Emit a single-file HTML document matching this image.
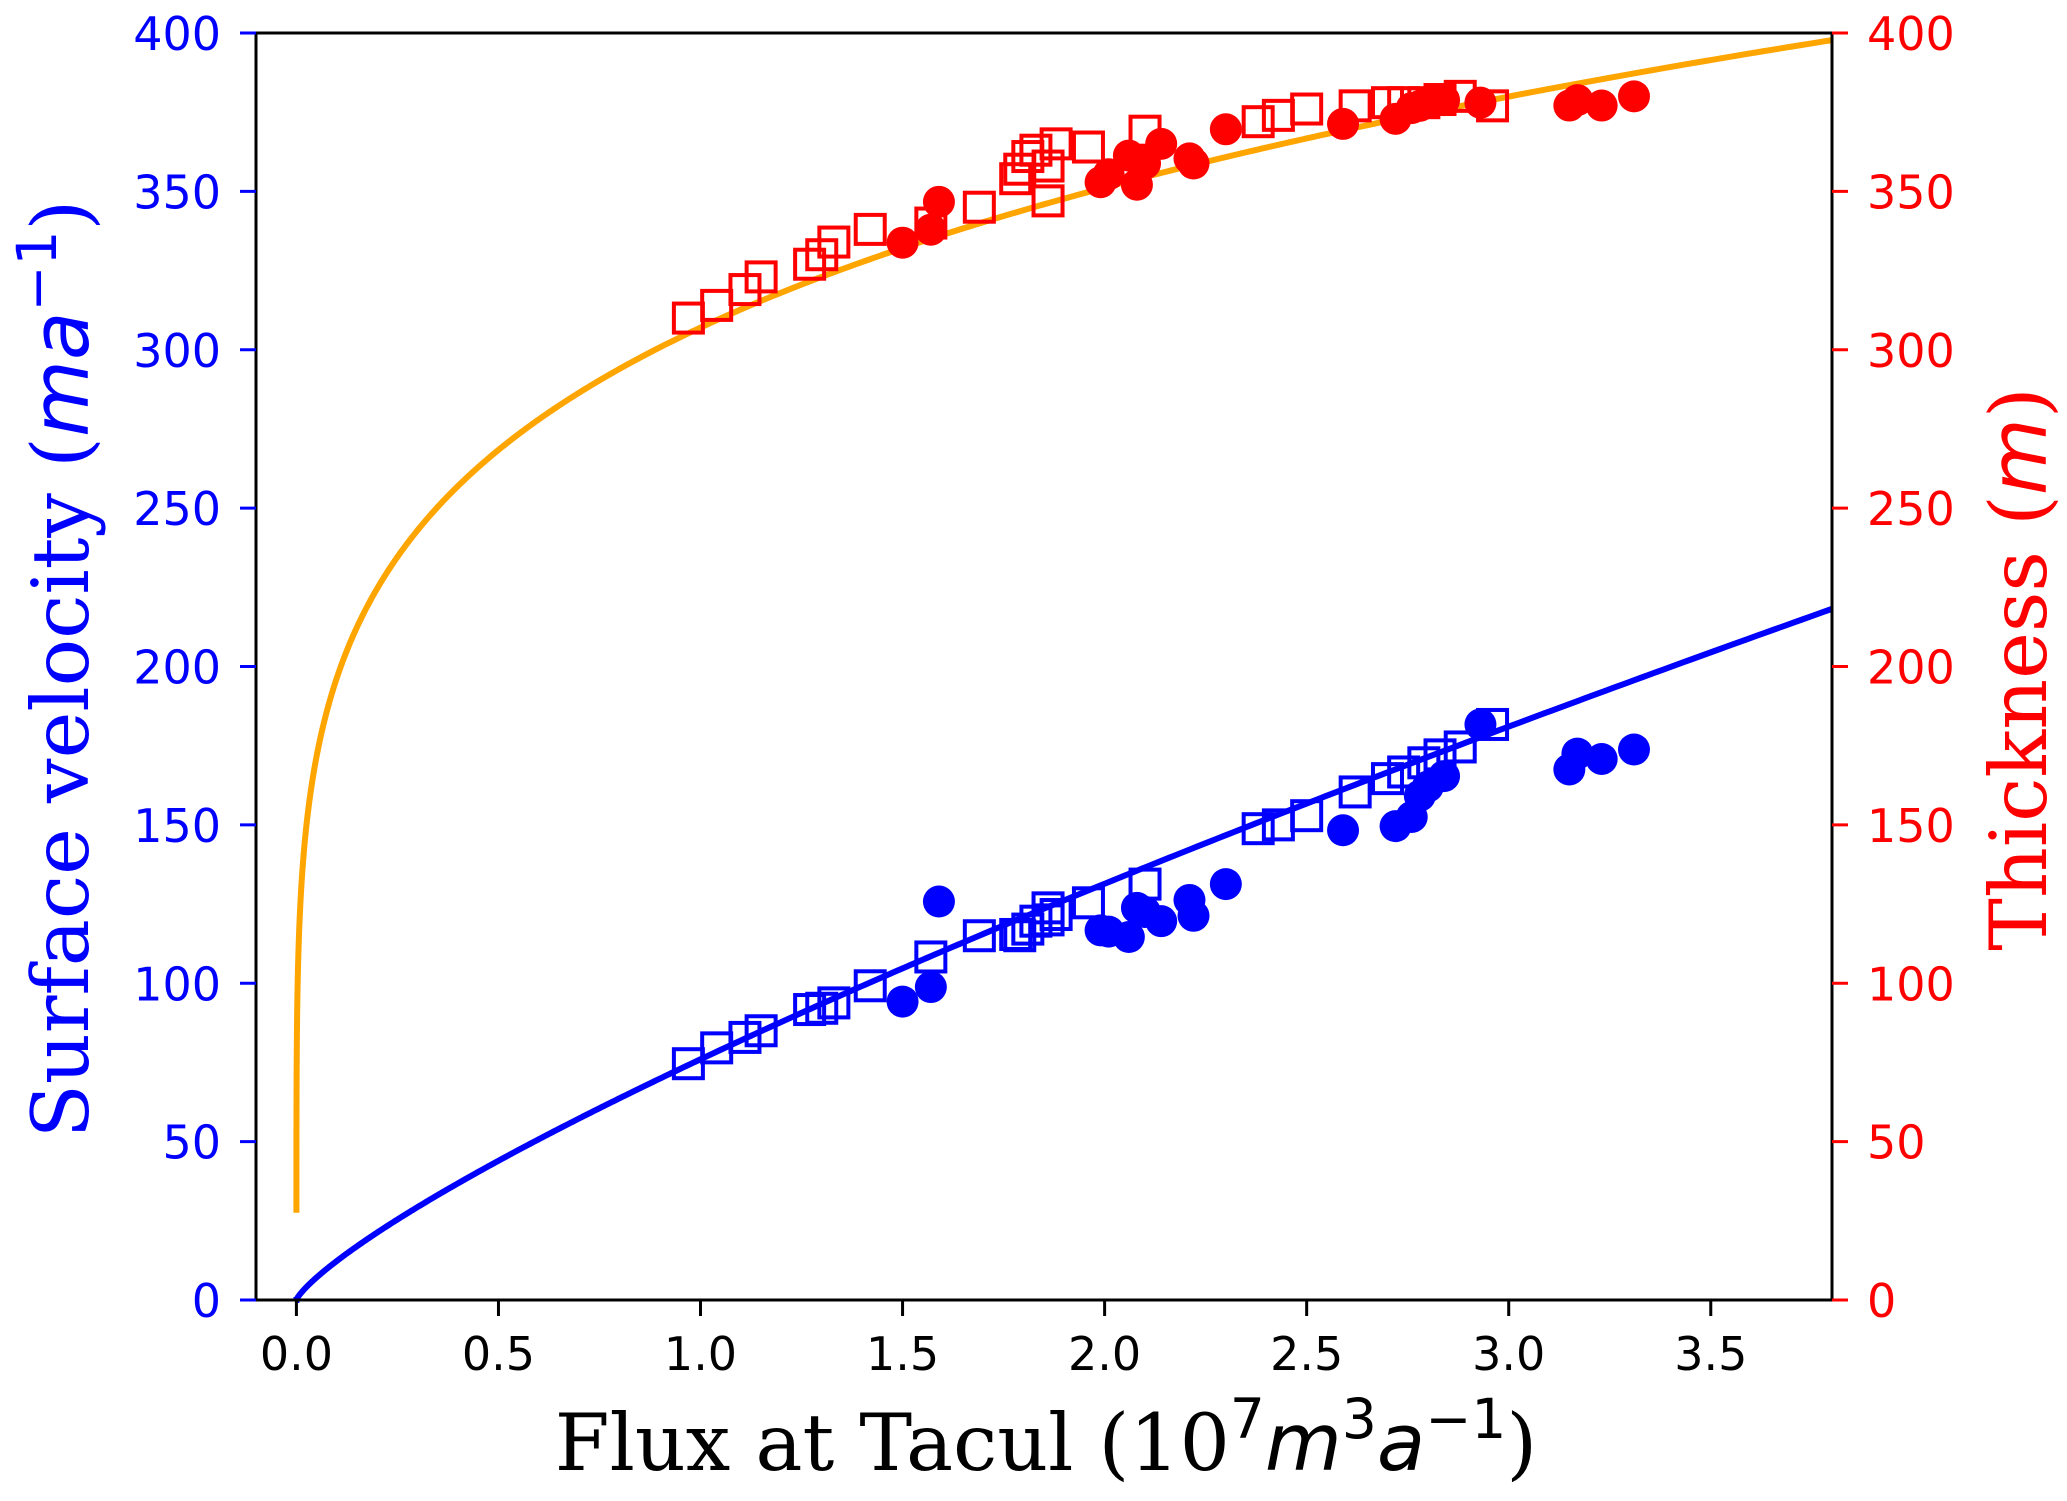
<!DOCTYPE html>
<html><head><meta charset="utf-8"><style>
html,body{margin:0;padding:0;background:#fff}
svg{display:block}
</style></head><body>
<svg id="chart" width="2067" height="1501" viewBox="0 0 2067 1501" xmlns="http://www.w3.org/2000/svg">
<g id="plot"></g>
<g id="axes"></g>
<text x="1046" y="1470" text-anchor="middle" font-family="'DejaVu Serif', 'Liberation Serif', serif" font-size="79" fill="#000">Flux at Tacul (10<tspan font-family="'DejaVu Sans', sans-serif" font-size="55" dy="-32">7</tspan><tspan font-family="'DejaVu Sans', sans-serif" font-style="italic" dy="32">m</tspan><tspan font-family="'DejaVu Sans', sans-serif" font-size="55" dy="-32">3</tspan><tspan font-family="'DejaVu Sans', sans-serif" font-style="italic" dy="32">a</tspan><tspan font-family="'DejaVu Sans', sans-serif" font-size="55" dy="-32">−1</tspan><tspan dy="32">)</tspan></text>
<text transform="translate(88,669) rotate(-90)" text-anchor="middle" font-family="'DejaVu Serif', 'Liberation Serif', serif" font-size="79" fill="#0000ff">Surface velocity (<tspan font-family="'DejaVu Sans', sans-serif" font-style="italic">ma</tspan><tspan font-family="'DejaVu Sans', sans-serif" font-size="55" dy="-32">−1</tspan><tspan dy="32">)</tspan></text>
<text transform="translate(2046,669) rotate(-90)" text-anchor="middle" font-family="'DejaVu Serif', 'Liberation Serif', serif" font-size="79" fill="#ff0000">Thickness (<tspan font-family="'DejaVu Sans', sans-serif" font-style="italic">m</tspan>)</text>
</svg>
<script>
const xTicks=[0.0,0.5,1.0,1.5,2.0,2.5,3.0,3.5];
const xTickLabels=["0.0","0.5","1.0","1.5","2.0","2.5","3.0","3.5"];
const yTicks=[0,50,100,150,200,250,300,350,400];
const yTickLabels=["0","50","100","150","200","250","300","350","400"];
const sqFlux=[0.97,1.04,1.11,1.15,1.27,1.30,1.33,1.42,1.57,1.69,1.78,1.79,1.81,1.83,1.86,1.86,1.88,1.96,2.10,2.38,2.43,2.50,2.62,2.70,2.74,2.79,2.83,2.88,2.96];
const sqThick=[310,314,319,323,327,330,334,338,340,345,354,357,361,363,358,347,365,364,369,372,374,376,377,378,378,378,379,380,377];
const sqVel=[74.6,79.6,82.9,85,91.7,92.1,93.8,99.2,108.3,115,115.4,115,117.1,119.6,123.8,120,121.7,125.4,131.3,148.8,150,152.9,160.4,164.6,166.7,169.6,172.1,174.6,181.7];
const ciFlux=[1.50,1.57,1.59,1.99,2.01,2.06,2.08,2.10,2.14,2.21,2.22,2.30,2.59,2.72,2.76,2.78,2.80,2.84,2.93,3.15,3.17,3.23,3.31];
const ciThick=[333.8,337.9,346.7,352.9,355.4,361.3,352.1,358.8,365,360.4,358.8,369.6,371.3,372.9,376.3,377,378,378.8,378,377.1,378.8,377.1,380];
const ciVel=[94.2,98.8,125.8,116.7,116.3,114.6,123.8,122.5,119.6,126.3,121.3,131.3,148.3,149.6,152.5,159.2,162.1,165.4,181.7,167.5,172.5,170.8,173.8];
const thickCoef=307, thickExp=0.194;
const velCoef=76, velExp=0.79;

const L=256,R=1832,T=33,B=1300,xmin=-0.1,xmax=3.8,ymin=0,ymax=400;
const sx=v=>L+(v-xmin)/(xmax-xmin)*(R-L);
const sy=v=>B-(v-ymin)/(ymax-ymin)*(B-T);
const NS="http://www.w3.org/2000/svg";
const plot=document.getElementById('plot'),axes=document.getElementById('axes');
function mk(tag,attrs,parent){const e=document.createElementNS(NS,tag);for(const k in attrs)e.setAttribute(k,attrs[k]);parent.appendChild(e);return e;}

let dT='',dV='';
const N=600, q0=4e-6;
for(let i=0;i<=N;i++){
  const q=q0+Math.pow(i/N,3)*(xmax-q0);
  dT+=(i?'L':'M')+sx(q).toFixed(2)+','+sy(thickCoef*Math.pow(q,thickExp)).toFixed(2);
  dV+=(i?'L':'M')+sx(q).toFixed(2)+','+sy(velCoef*Math.pow(q,velExp)).toFixed(2);
}
const ct=mk('path',{d:dT,fill:'none',stroke:'#ffa500','stroke-width':6},plot);


const cv=mk('path',{d:dV,fill:'none',stroke:'#0000ff','stroke-width':6},plot);



const S=29;
sqFlux.forEach((q,i)=>{
  const a=mk('rect',{x:sx(q)-S/2,y:sy(sqThick[i])-S/2,width:S,height:S,fill:'none',stroke:'#ff0000','stroke-width':4},plot);
  
  
  const b=mk('rect',{x:sx(q)-S/2,y:sy(sqVel[i])-S/2,width:S,height:S,fill:'none',stroke:'#0000ff','stroke-width':4},plot);
  
  
});
ciFlux.forEach((q,i)=>{
  const a=mk('circle',{cx:sx(q),cy:sy(ciThick[i]),r:16,fill:'#ff0000'},plot);
  
  
  const b=mk('circle',{cx:sx(q),cy:sy(ciVel[i]),r:16,fill:'#0000ff'},plot);
  
  
});

const fr=mk('rect',{x:L,y:T,width:R-L,height:B-T,fill:'none',stroke:'#000','stroke-width':3},axes);


const font="'DejaVu Sans','Liberation Sans',sans-serif";
xTicks.forEach((v,i)=>{
  const t=mk('line',{x1:sx(v),x2:sx(v),y1:B,y2:B+16,stroke:'#000','stroke-width':3},axes);
  
  
  const l=mk('text',{x:sx(v),y:B+70,'text-anchor':'middle','font-family':font,'font-size':46,fill:'#000'},axes);
  l.textContent=xTickLabels[i];
  
  
});
yTicks.forEach((v,i)=>{
  const t=mk('line',{x1:L-16,x2:L,y1:sy(v),y2:sy(v),stroke:'#0000ff','stroke-width':3},axes);
  
  
  const l=mk('text',{x:L-35,y:sy(v)+17,'text-anchor':'end','font-family':font,'font-size':46,fill:'#0000ff'},axes);
  l.textContent=yTickLabels[i];
  
  
  const t2=mk('line',{x1:R,x2:R+16,y1:sy(v),y2:sy(v),stroke:'#ff0000','stroke-width':3},axes);
  
  
  const l2=mk('text',{x:R+35,y:sy(v)+17,'text-anchor':'start','font-family':font,'font-size':46,fill:'#ff0000'},axes);
  l2.textContent=yTickLabels[i];
  
  
});
</script>
</body></html>
